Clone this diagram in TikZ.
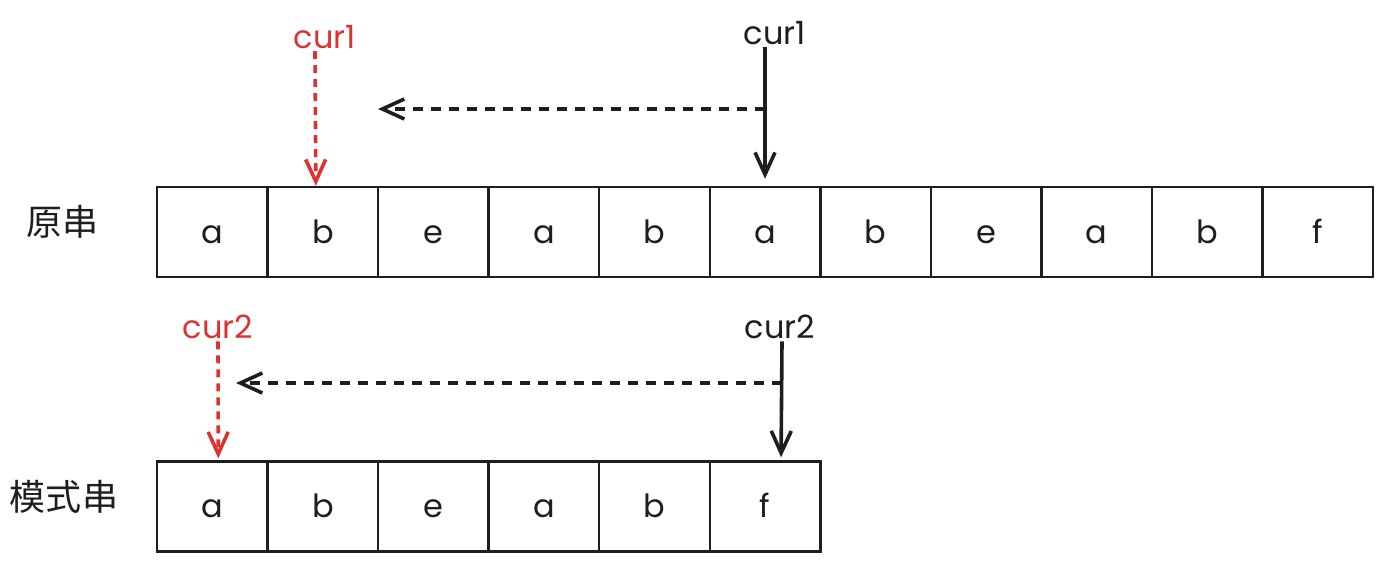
\documentclass[tikz,border=0pt]{standalone}
\usepackage{fontspec}
\setmainfont{Poppins}
\newfontfamily\cjkfont{Noto Sans CJK SC}
\usetikzlibrary{arrows.meta}
\definecolor{stiftrot}{HTML}{E03131}
\definecolor{stift}{HTML}{1E1E1E}

\begin{document}
\begin{tikzpicture}[
    x=0.5pt, y=-0.5pt,
    zelle/.style={draw=stift, line width=1.2pt, minimum width=55.3pt, minimum height=45pt, inner sep=0pt,
        text height=11pt, text depth=0pt, text=stift, font=\fontsize{16}{16}\selectfont},
    beschr/.style={text=stift, font=\cjkfont\fontsize{18}{18}\selectfont},
    zeiger/.style={inner sep=1pt, font=\fontsize{16}{16}\selectfont},
    pfeil/.style={line width=1.8pt, -{Straight Barb[length=11pt, width=10pt]}},
    strichrot/.style={stiftrot, dash pattern=on 4pt off 3pt},
    strichschwarz/.style={stift, dash pattern=on 5pt off 4pt}
]
\useasboundingbox (0,0) rectangle (1384,562);

% Zeilen mit den Zeichen
\node[beschr] (orig) at (62,222) {原串};
\foreach \b [count=\i] in {a,b,e,a,b,a,b,e,a,b,f}
    \node[zelle] (o\i) at ({157+110.55*(\i-0.5)},232) {\b};

\node[beschr] (muster) at (64,497) {模式串};
\foreach \b [count=\i] in {a,b,e,a,b,f}
    \node[zelle] (m\i) at ({157+110.55*(\i-0.5)},506.5) {\b};

% Zeiger oben
\node[zeiger, text=stiftrot] (r1) at (325,37) {cur1};
\node[zeiger, text=stift] (s1) at (775,33) {cur1};
\draw[pfeil, strichrot] ([xshift=-5pt]r1.south) -- ([xshift=-3.5pt]o2.north);
\draw[pfeil, stift, shorten >=3.5pt] ([xshift=-5pt]s1.south) -- (o6.north);
\coordinate (k1) at (765,109);
\coordinate (z1) at (378,109);
\draw[pfeil, strichschwarz] (k1) -- (z1);

% Zeiger unten
\node[zeiger, text=stiftrot] (r2) at (218,327) {cur2};
\node[zeiger, text=stift] (s2) at (780,327) {cur2};
\draw[pfeil, strichrot, shorten >=1pt] (r2.south) -- ([xshift=3pt]m1.north);
\draw[pfeil, stift, shorten >=1.5pt] ([xshift=1pt]s2.south) -- ([xshift=8pt]m6.north);
\coordinate (k2) at (782,383);
\coordinate (z2) at (236,383);
\draw[pfeil, strichschwarz] (k2) -- (z2);

\end{tikzpicture}
\end{document}
